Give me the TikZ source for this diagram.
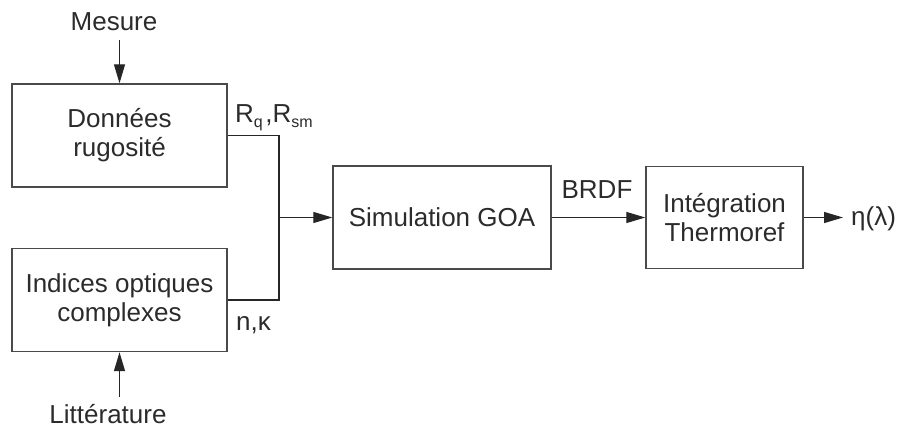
\documentclass[tikz,border=0pt]{standalone}
\usepackage{fontspec}
\setmainfont{Liberation Sans}
\usetikzlibrary{arrows.meta}
\definecolor{txt}{HTML}{2B2B2B}
\definecolor{edge}{HTML}{4A4A4A}
\begin{document}
\begin{tikzpicture}[x=1pt,y=-1pt,
  every node/.style={font=\fontsize{26}{29}\selectfont, text=txt},
  block/.style={draw=edge, line width=1.4pt, minimum width=215pt, minimum height=103pt, align=center, inner sep=0pt},
  link/.style={line width=1.2pt, draw=black!85, -{Triangle[length=19pt,width=11pt]}},
  wire/.style={line width=1.2pt, draw=black!85},
  lbl/.style={anchor=base, inner sep=0pt}]
\useasboundingbox (0,0) rectangle (899,429);
\newcommand{\subtxt}[1]{\raisebox{-5pt}{\fontsize{16}{16}\selectfont #1}\hspace{2.5pt}}
\node[block] (don) at (119.5,135.5) {Données\\rugosité};
\node[block] (ind) at (119.5,300) {Indices optiques\\complexes};
\node[block, minimum width=218pt] (sim) at (442,217.5) {Simulation GOA};
\node[block, minimum width=157pt, minimum height=102pt] (int) at (724.5,217.5) {Intégration\\Thermoref};
\node[lbl] (mes) at (114,30) {Mesure};
\node[lbl] (lit) at (108,423) {Littérature};
\node[lbl, anchor=base west] (rq) at (235,122) {R\subtxt{q},R\subtxt{sm}};
\node[lbl, anchor=base west] (nk) at (236,330) {n,κ};
\node[lbl] (brdf) at (597,198) {BRDF};
\node[lbl, anchor=base west] (eta) at (851,225) {η(λ)};
\coordinate (j) at (279,217.5);
\coordinate (m0) at (119.5,40);
\coordinate (l0) at (119.5,397);
\coordinate (out) at (843,217.5);
\draw[wire] (don.east) -- (don.east -| j) -- (j);
\draw[wire] (ind.east) -- (ind.east -| j) -- (j);
\draw[link] (j) -- (sim.west);
\draw[link] (sim.east) -- (int.west);
\draw[link] (int.east) -- (out);
\draw[link] (m0) -- (don.north);
\draw[link] (l0) -- (ind.south);
\end{tikzpicture}
\end{document}
